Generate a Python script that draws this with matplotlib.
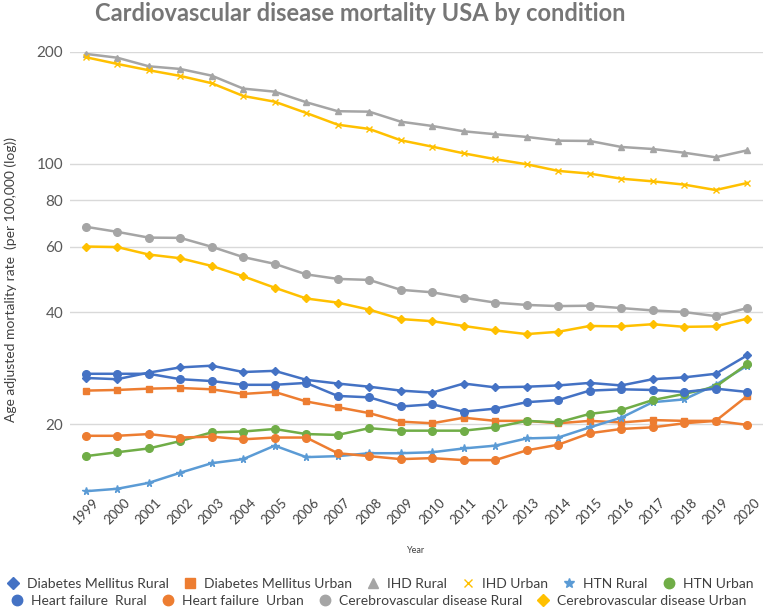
import numpy as np
import matplotlib
matplotlib.use("Agg")
import matplotlib.pyplot as plt
from matplotlib.lines import Line2D

plt.rcParams['font.family'] = ['Lato', 'DejaVu Sans']

years = [str(y) for y in range(1999, 2021)]

# values (per 100,000)
dm_rural = [26.6, 26.4, 27.5, 28.4, 28.7, 27.6, 27.8, 26.3, 25.7, 25.2, 24.6,
            24.3, 25.7, 25.1, 25.2, 25.4, 25.8, 25.4, 26.4, 26.7, 27.3, 30.6]
dm_urban = [24.6, 24.7, 24.9, 25.0, 24.8, 24.1, 24.4, 23.0, 22.2, 21.4, 20.3,
            20.1, 20.8, 20.4, 20.4, 20.1, 20.4, 20.2, 20.5, 20.4, 20.4, 23.8]
ihd_rural = [197.6, 193, 183, 180, 172.7, 159.4, 156.4, 146.5, 138.6, 138.2, 129.9,
             126.5, 122.4, 120.2, 118.2, 115.5, 115.3, 111.1, 109.7, 107.2, 104.2, 108.8]
ihd_urban = [193.6, 185.7, 178.6, 172.4, 164.8, 152.3, 147, 137.1, 127.5, 124.2, 115.8,
             111.3, 106.8, 103, 99.8, 95.8, 94.2, 91.3, 89.8, 88.0, 85.1, 88.9]
htn_rural = [13.2, 13.4, 13.9, 14.8, 15.7, 16.1, 17.5, 16.3, 16.4, 16.7, 16.7,
             16.8, 17.2, 17.5, 18.3, 18.4, 19.6, 20.8, 22.9, 23.3, 25.5, 28.7]
htn_urban = [16.4, 16.8, 17.2, 18.0, 19.0, 19.1, 19.4, 18.8, 18.7, 19.5, 19.2,
             19.2, 19.2, 19.6, 20.4, 20.2, 21.3, 21.8, 23.2, 24.1, 25.2, 29.0]
hf_rural = [27.3, 27.3, 27.3, 26.4, 26.1, 25.5, 25.5, 25.8, 23.8, 23.6, 22.3,
            22.6, 21.6, 22.0, 22.9, 23.2, 24.6, 24.8, 24.7, 24.4, 24.9, 24.4]
hf_urban = [18.6, 18.6, 18.8, 18.4, 18.5, 18.2, 18.4, 18.4, 16.7, 16.4, 16.1,
            16.2, 16.0, 16.0, 17.0, 17.6, 18.9, 19.4, 19.6, 20.1, 20.4, 19.9]
cv_rural = [67.8, 65.7, 63.4, 63.3, 59.9, 56.2, 53.9, 50.5, 49.1, 48.8, 45.9,
            45.2, 43.7, 42.4, 41.8, 41.5, 41.6, 41.0, 40.4, 40.0, 39.0, 41.0]
cv_urban = [60.0, 59.8, 57.1, 55.8, 53.2, 49.9, 46.5, 43.5, 42.4, 40.6, 38.3,
            37.8, 36.7, 35.7, 34.9, 35.4, 36.7, 36.6, 37.1, 36.5, 36.6, 38.4]

yticks = [20, 40, 60, 80, 100, 200]

series = [
    ("Diabetes Mellitus Rural", dm_rural, "#4472C4", "D", 4.5),
    ("Diabetes Mellitus Urban", dm_urban, "#ED7D31", "s", 4.5),
    ("IHD Rural", ihd_rural, "#A5A5A5", "^", 4.5),
    ("IHD Urban", ihd_urban, "#FFC000", "x", 4),
    ("HTN Rural", htn_rural, "#5B9BD5", "*", 5.5),
    ("HTN Urban", htn_urban, "#70AD47", "o", 5.5),
    ("Heart failure  Rural", hf_rural, "#4472C4", "o", 5.5),
    ("Heart failure  Urban", hf_urban, "#ED7D31", "o", 5.5),
    ("Cerebrovascular disease Rural", cv_rural, "#A5A5A5", "o", 5.5),
    ("Cerebrovascular disease Urban", cv_urban, "#FFC000", "D", 4.5),
]

fig = plt.figure(figsize=(7.64, 6.11), dpi=100)
ax = fig.add_axes([0.0916, 0.192, 0.907, 0.723])

x = np.arange(len(years))
for name, vals, col, mk, ms in series:
    ax.plot(x, vals, color=col, marker=mk, markersize=ms, lw=1.8,
            markeredgecolor=col, clip_on=False, zorder=3)

ax.set_yscale('log')
ax.set_ylim(13, 200)
ax.set_yticks(yticks)
ax.set_yticklabels([str(t) for t in yticks])
ax.yaxis.set_minor_locator(matplotlib.ticker.NullLocator())
ax.set_xlim(-0.5, len(years) - 0.5)
ax.set_xticks(x)
ax.set_xticklabels(years, rotation=45, ha='center', va='top')
ax.tick_params(axis='both', length=0)
ax.tick_params(axis='y', labelsize=11, labelcolor='#595959', pad=5)
ax.tick_params(axis='x', labelsize=9.5, labelcolor='#404040', pad=2)
ax.grid(axis='y', color='#D9D9D9', lw=1)
ax.set_axisbelow(True)
for s in ax.spines.values():
    s.set_visible(False)

fig.text(11 / 764, 1 - 280 / 611,
         "Age adjusted mortality rate  (per 100,000 (log))",
         rotation=90, ha='center', va='center', fontsize=10, color='#404040')
ax.set_xlabel("Year", fontsize=6.5, color='#404040', labelpad=14)
fig.suptitle("Cardiovascular disease mortality USA by condition",
             fontsize=17, fontweight='bold', color='#767676',
             x=360 / 764, y=0.997)

handles = [Line2D([], [], ls='none', marker=mk, color=col, markersize=ms + 2,
                  markeredgecolor=col) for _, _, col, mk, ms in series]
labels = [s[0] for s in series]
kw = dict(frameon=False, fontsize=10, handletextpad=0.5, columnspacing=1.03,
          handlelength=1.0, labelcolor='#404040', borderpad=0)
fig.legend(handles[:6], labels[:6], ncol=6, loc='center',
           bbox_to_anchor=(0.497, 0.045), **kw)
fig.legend(handles[6:], labels[6:], ncol=4, loc='center',
           bbox_to_anchor=(0.495, 0.016), **kw)

fig.savefig("out.png", dpi=100)
